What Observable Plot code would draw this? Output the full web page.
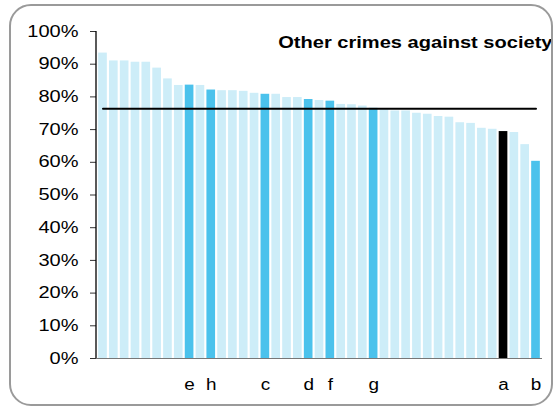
<!DOCTYPE html>
<html>
<head>
<meta charset="utf-8">
<script src="https://cdn.jsdelivr.net/npm/d3@7"></script>
<script src="https://cdn.jsdelivr.net/npm/@observablehq/plot@0.6"></script>
<style>
  html, body { margin: 0; padding: 0; background: #fff; }
  #wrap { position: relative; width: 556px; height: 408px; overflow: hidden; }
  #border { position: absolute; left: 9px; top: 4px; width: 540px; height: 398px;
            border: 2px solid #9a9a9a; border-radius: 22px; pointer-events: none; }
</style>
</head>
<body>
<div id="wrap"><div id="border"></div></div>
<script>
const title = "Other crimes against society";
const values = [93.4, 91.0, 91.0, 90.6, 90.6, 88.8, 85.5, 83.5, 83.6, 83.5,
                82.1, 81.9, 81.9, 81.7, 81.1, 80.8, 80.8, 79.8, 79.8, 79.2,
                78.9, 78.7, 77.7, 77.6, 77.2, 76.5, 76.1, 75.7, 75.7, 75.0,
                74.7, 74.0, 73.8, 72.1, 71.9, 70.4, 70.1, 69.4, 69.1, 65.4,
                60.3];
const labels = ["", "", "", "", "", "", "", "", "e", "",
                "h", "", "", "", "", "c", "", "", "", "d",
                "", "f", "", "", "", "g", "", "", "", "",
                "", "", "", "", "", "", "", "a", "", "",
                "b"];
const average = 76.4;
const yTicks = [0, 10, 20, 30, 40, 50, 60, 70, 80, 90, 100];

const LIGHT = "#cdedf8", DARK = "#4bc2ec", BLACK = "#000000";
const data = values.map((v, i) => ({i, v, label: labels[i],
  color: labels[i] === "a" ? BLACK : labels[i] ? DARK : LIGHT}));

// vertical axis line at the left edge of the frame
const leftLine = (index, scales, values, dim) => {
  const l = document.createElementNS("http://www.w3.org/2000/svg", "line");
  const x = dim.marginLeft;
  l.setAttribute("x1", x); l.setAttribute("x2", x);
  l.setAttribute("y1", dim.marginTop); l.setAttribute("y2", dim.height - dim.marginBottom);
  l.setAttribute("stroke", "#000"); l.setAttribute("stroke-width", "1.3");
  return l;
};

const chart = Plot.plot({
  width: 556,
  height: 408,
  marginLeft: 96,
  marginRight: 14,
  marginTop: 31,
  marginBottom: 50,
  style: {fontFamily: "'Liberation Sans', Arial, sans-serif", fontSize: "16px", background: "transparent", color: "#000"},
  x: {domain: d3.range(values.length), padding: 0.2, axis: null, label: null},
  y: {domain: [0, 100], axis: null, label: null},
  marks: [
    Plot.barY(data, {x: "i", y: "v", fill: "color"}),
    Plot.ruleY([0], {stroke: "#777", strokeWidth: 1.2}),
    Plot.axisY({ticks: yTicks, tickFormat: d => d + "%", tickSize: 6, tickPadding: 12,
                label: null, stroke: "#333", fontSize: 16, fill: "#000", className: "yax"}),
    leftLine,
    Plot.axisX({tickSize: 0, tickPadding: 20, tickFormat: i => labels[i], label: null,
                fontSize: 16, fill: "#000"}),
    Plot.lineY(data, {x: "i", y: () => average, stroke: "#000", strokeWidth: 2}),
    Plot.text([title], {frameAnchor: "top-right", dx: 10, dy: 11, lineAnchor: "middle",
                        textAnchor: "end", fontSize: 17, fontWeight: "bold", fill: "#000"})
  ]
});
document.getElementById("wrap").insertBefore(chart, document.getElementById("border"));

// horizontal stretch of the reference's lettering
chart.querySelectorAll("text").forEach(t => {
  const len = t.getComputedTextLength();
  const k = /%$/.test(t.textContent) ? 1.25 : 1.18;
  if (len > 0) {
    t.setAttribute("textLength", (len * k).toFixed(2));
    t.setAttribute("lengthAdjust", "spacingAndGlyphs");
  }
});
</script>
</body>
</html>
